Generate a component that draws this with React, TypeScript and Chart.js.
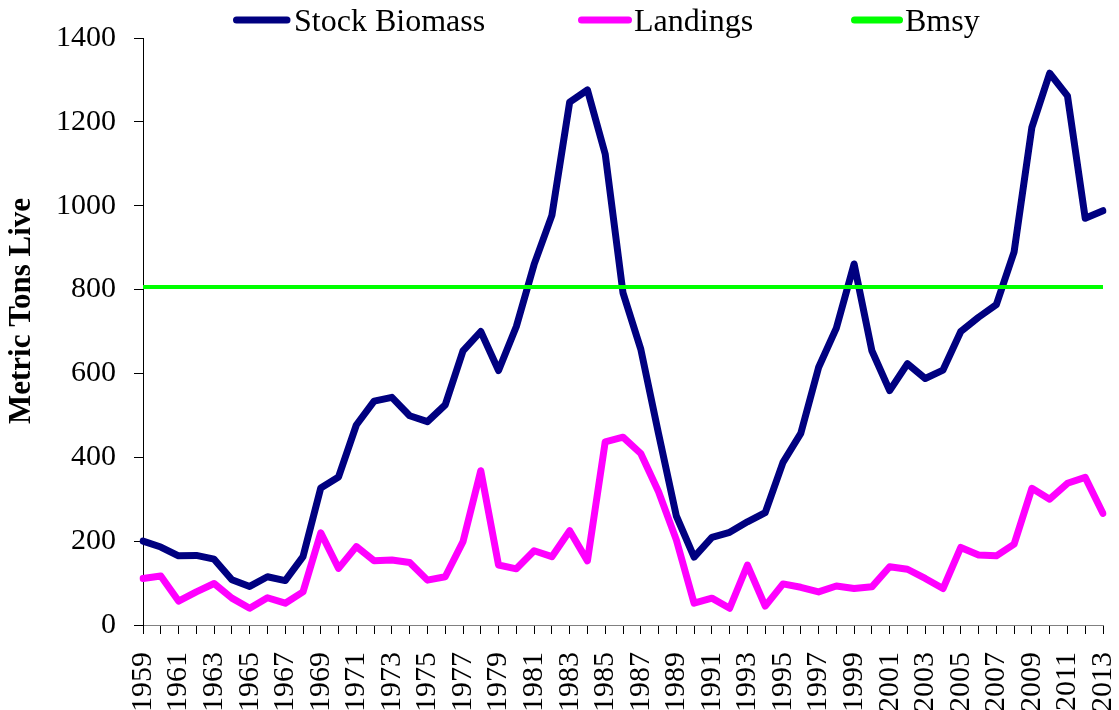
import React, { useEffect, useRef } from "react";
import { Chart, registerables } from "chart.js";

Chart.register(...registerables);

const years = [
  "1959", "1960", "1961", "1962", "1963", "1964", "1965", "1966", "1967", "1968",
  "1969", "1970", "1971", "1972", "1973", "1974", "1975", "1976", "1977", "1978",
  "1979", "1980", "1981", "1982", "1983", "1984", "1985", "1986", "1987", "1988",
  "1989", "1990", "1991", "1992", "1993", "1994", "1995", "1996", "1997", "1998",
  "1999", "2000", "2001", "2002", "2003", "2004", "2005", "2006", "2007", "2008",
  "2009", "2010", "2011", "2012", "2013",
];

const stockBiomass = [
  200, 186, 165, 166, 157, 108, 92, 115, 106, 163,
  327, 353, 477, 534, 543, 499, 485, 525, 654, 700,
  607, 712, 860, 977, 1247, 1276, 1123, 792, 658, 456,
  260, 162, 209, 221, 246, 268, 388, 457, 614, 708,
  861, 654, 559, 623, 588, 608, 700, 734, 764, 890,
  1187, 1316, 1262, 970, 988,
];

const landings = [
  111, 117, 57, 79, 99, 64, 40, 65, 52, 79,
  220, 135, 187, 153, 155, 149, 107, 115, 199, 368,
  143, 134, 177, 163, 225, 153, 437, 448, 409, 318,
  203, 52, 64, 40, 143, 45, 98, 90, 79, 93,
  87, 91, 139, 133, 111, 87, 185, 167, 165, 193,
  326, 300, 338, 352, 266,
];

const bmsy = [
  806, 806, 806, 806, 806, 806, 806, 806, 806, 806,
  806, 806, 806, 806, 806, 806, 806, 806, 806, 806,
  806, 806, 806, 806, 806, 806, 806, 806, 806, 806,
  806, 806, 806, 806, 806, 806, 806, 806, 806, 806,
  806, 806, 806, 806, 806, 806, 806, 806, 806, 806,
  806, 806, 806, 806, 806,
];

const yTicks = [0, 200, 400, 600, 800, 1000, 1200, 1400];

const FONT = "'Liberation Serif', 'Times New Roman', serif";

const legendLayout = [
  { x0: 236.5, x1: 287, tx: 294 },
  { x0: 581.5, x1: 628.5, tx: 634 },
  { x0: 854.5, x1: 899.5, tx: 905 },
];

const overlayPlugin = {
  id: "overlay",
  afterDraw(chart: any) {
    const ctx = chart.ctx as CanvasRenderingContext2D;
    ctx.save();
    // legend
    chart.data.datasets.forEach((ds: any, i: number) => {
      const l = legendLayout[i];
      if (!l) return;
      ctx.strokeStyle = ds.borderColor;
      ctx.lineWidth = 7;
      ctx.lineCap = "round";
      ctx.beginPath();
      ctx.moveTo(l.x0, 20);
      ctx.lineTo(l.x1, 20);
      ctx.stroke();
      ctx.fillStyle = "#000";
      ctx.font = `32px ${FONT}`;
      ctx.textAlign = "left";
      ctx.textBaseline = "alphabetic";
      ctx.fillText(ds.label, l.tx, 31);
    });
    // y title
    ctx.translate(22, 311);
    ctx.rotate(-Math.PI / 2);
    ctx.font = `bold 31px ${FONT}`;
    ctx.textAlign = "center";
    ctx.textBaseline = "middle";
    ctx.fillStyle = "#000";
    ctx.fillText("Metric Tons Live", 0, 0);
    ctx.restore();
  },
};

export default function App() {
  const canvasRef = useRef<HTMLCanvasElement | null>(null);

  useEffect(() => {
    if (!canvasRef.current) return;
    const chart = new Chart(canvasRef.current, {
      type: "line",
      data: {
        labels: years,
        datasets: [
          {
            label: "Stock Biomass",
            data: stockBiomass,
            borderColor: "#000080",
            backgroundColor: "#000080",
            borderWidth: 7,
            pointRadius: 0,
            borderJoinStyle: "round",
            borderCapStyle: "round",
            tension: 0,
            order: 2,
          },
          {
            label: "Landings",
            data: landings,
            borderColor: "#FF00FF",
            backgroundColor: "#FF00FF",
            borderWidth: 7,
            pointRadius: 0,
            borderJoinStyle: "round",
            borderCapStyle: "round",
            tension: 0,
            order: 1,
          },
          {
            label: "Bmsy",
            data: bmsy,
            borderColor: "#00FF00",
            backgroundColor: "#00FF00",
            borderWidth: 4,
            pointRadius: 0,
            tension: 0,
            order: 0,
          },
        ],
      },
      options: {
        animation: false,
        responsive: true,
        maintainAspectRatio: false,
        layout: { padding: { left: 0, right: 16, top: 38, bottom: 0 } },
        plugins: {
          legend: { display: false },
          tooltip: { enabled: false },
        },
        scales: {
          x: {
            type: "category",
            offset: false,
            grid: {
              display: true,
              drawOnChartArea: false,
              drawTicks: true,
              tickLength: 9,
              tickColor: "#000",
            },
            border: { display: true, color: "#808080", width: 1 },
            ticks: {
              autoSkip: false,
              minRotation: 90,
              maxRotation: 90,
              padding: 18,
              color: "#000",
              font: { family: FONT, size: 30 },
              callback: (_v: any, i: number) => (i % 2 === 0 ? years[i] : ""),
            },
            afterFit: (s: any) => {
              s.height = 85;
              s.paddingLeft = 0;
              s.paddingRight = 0;
            },
          },
          y: {
            min: 0,
            max: 1400,
            afterBuildTicks: (s: any) => {
              s.ticks = yTicks.map((v) => ({ value: v }));
            },
            ticks: {
              padding: 18,
              color: "#000",
              font: { family: FONT, size: 30 },
              callback: (v: any) => String(v),
            },
            grid: {
              display: true,
              drawOnChartArea: false,
              drawTicks: true,
              tickLength: 9,
              tickColor: "#000",
            },
            border: { display: true, color: "#000", width: 1 },
            afterFit: (s: any) => {
              s.width = 143;
            },
          },
        },
      },
      plugins: [overlayPlugin],
    } as any);
    return () => chart.destroy();
  }, []);

  return (
    <div style={{ position: "absolute", left: 0, top: 0, width: 1119, height: 710, background: "#fff" }}>
      <canvas ref={canvasRef} />
    </div>
  );
}
